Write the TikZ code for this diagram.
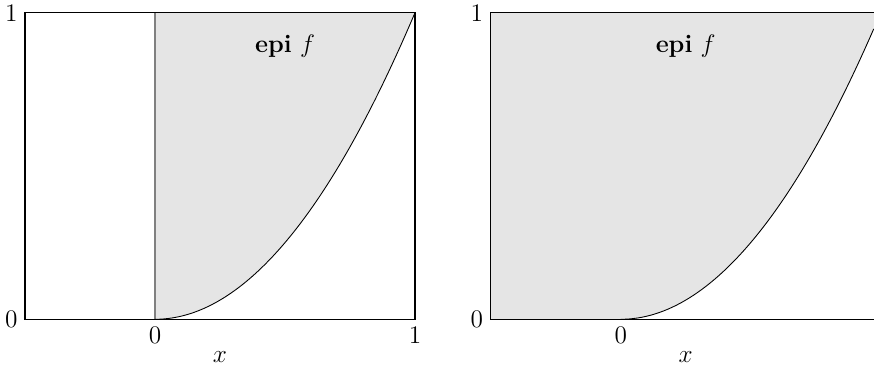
\documentclass[tikz,border=0pt]{standalone}
\begin{document}
\begin{tikzpicture}[x=5.2cm, y=6.132cm, line width=0.6pt, font=\Large]
  \tikzset{epifill/.style={fill=gray!20}, ticklabel/.style={inner sep=4pt}}
  \useasboundingbox (-0.5962,-0.1686) rectangle (2.7654,1.0414);
  % left plot
  \fill[epifill] (0,0) -- plot[domain=0:1, samples=60] (\x,{\x*\x}) -- (0,1) -- cycle;
  \draw[gray] (0,0) -- (0,1);
  \draw (-0.5,0) rectangle (1,1);
  \draw[line width=0.5pt] plot[domain=0:1, samples=60] (\x,{\x*\x});
  \node[ticklabel, anchor=east] (ltop) at (-0.5,1) {1};
  \node[ticklabel, anchor=east] (lbot) at (-0.5,0) {0};
  \node[ticklabel, anchor=north] (lzero) at (0,0) {0};
  \node[ticklabel, anchor=north] (lone) at (1,0) {1};
  \node (lx) at (0.25,-0.124) {$x$};
  \node[anchor=base] (lepi) at (0.5,0.869) {\textbf{epi}~$f$};
  % right plot
  \begin{scope}[xshift=9.314cm]
    \fill[epifill] (-0.5,0) -- (0,0) -- plot[domain=0:0.974, samples=60] (\x,{\x*\x}) -- (0.974,1) -- (-0.5,1) -- cycle;
    \draw (0.974,1) -- (-0.5,1) -- (-0.5,0) -- (0.974,0);
    \draw[line width=0.5pt] plot[domain=0:0.974, samples=60] (\x,{\x*\x});
    \node[ticklabel, anchor=east] (rtop) at (-0.5,1) {1};
    \node[ticklabel, anchor=east] (rbot) at (-0.5,0) {0};
    \node[ticklabel, anchor=north] (rzero) at (0,0) {0};
    \node (rx) at (0.25,-0.124) {$x$};
    \node[anchor=base] (repi) at (0.25,0.869) {\textbf{epi}~$f$};
  \end{scope}
\end{tikzpicture}
\end{document}
